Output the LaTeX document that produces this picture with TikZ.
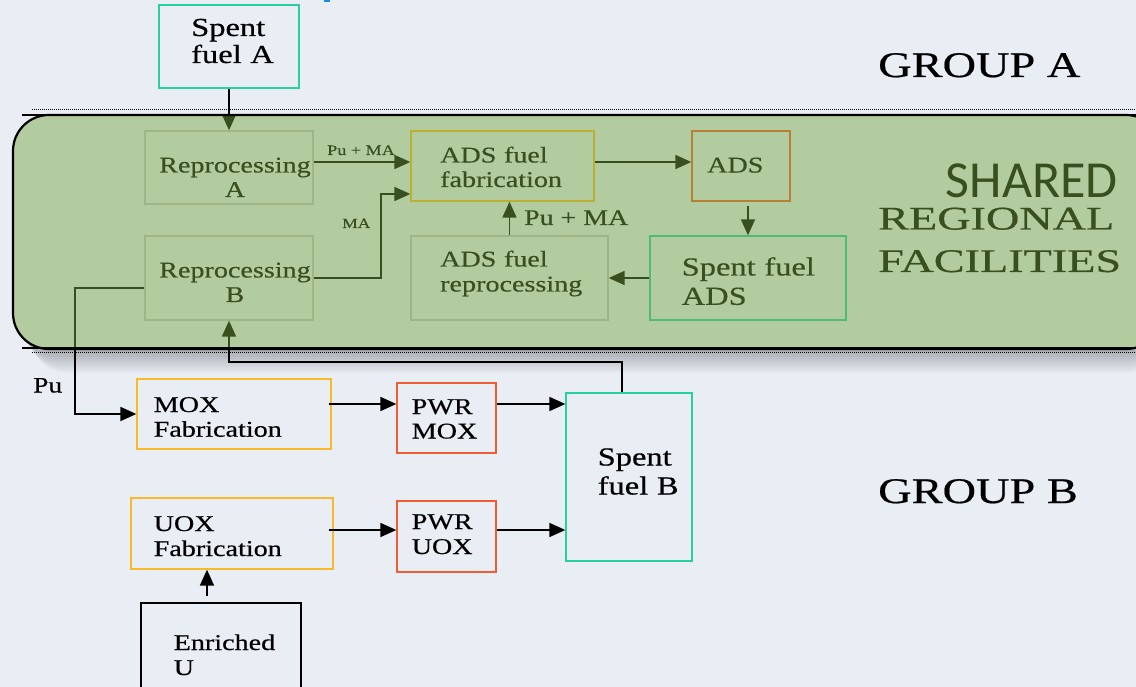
\documentclass[tikz,border=0pt]{standalone}
\usepackage{fontspec}
\usepackage{graphicx}
\setmainfont{Liberation Serif}[FakeStretch=1.25,FakeBold=0.5]
\newfontfamily\sharedfont{Carlito}
\usetikzlibrary{arrows.meta}
\definecolor{bgc}{RGB}{233,238,245}
\definecolor{cTeal}{RGB}{40,208,160}
\definecolor{cAmber}{RGB}{250,186,40}
\definecolor{cRed}{RGB}{242,92,52}
\definecolor{cFaint}{RGB}{195,195,195}
\definecolor{cOver}{RGB}{121,167,67}
\definecolor{cBlue}{RGB}{30,140,230}
\newcommand\setfs[2]{\fontsize{#1}{#2}\selectfont}
\begin{document}
\begin{tikzpicture}[x=1pt,y=-1pt,
  box/.style={draw, line width=1.3pt, inner sep=0pt},
  txt/.style={inner sep=0pt, anchor=base west, text width=200pt, align=left},
  ctxt/.style={inner sep=0pt, anchor=base, text width=200pt, align=center},
  arr/.style={line width=1.7pt, -{Triangle[length=16pt,width=14pt]}},
  lbl/.style={inner sep=0pt}
]
\useasboundingbox (0,0) rectangle (1136,687);
\clip (0,0) rectangle (1136,687);
\fill[bgc] (0,0) rectangle (1136,687);
\fill[cBlue] (324,0) rectangle (330,2.5);
% shadow of the shared region
\foreach \i in {1,...,9}
  \fill[black, opacity=0.03, rounded corners=36pt] ({13+2*\i},{115+\i*2.6}) rectangle (1162,{349+\i*2.6});
\fill[bgc, rounded corners=36pt] (13,115) rectangle (1162,349);

% ---- boxes
\node[box, draw=cTeal,  minimum width=140pt, minimum height=83pt]  (sfA)    at (229,46.5) {};
\node[box, draw=cFaint, minimum width=168pt, minimum height=73pt]  (repA)   at (229,167.5) {};
\node[box, draw=cFaint, minimum width=168pt, minimum height=84pt]  (repB)   at (229,278) {};
\node[box, draw=cAmber, minimum width=183pt, minimum height=70pt]  (fab)    at (502.5,166) {};
\node[box, draw=cRed,   minimum width=98pt,  minimum height=70pt]  (ads)    at (741,166) {};
\node[box, draw=cTeal,  minimum width=196pt, minimum height=84pt]  (sfADS)  at (748,278) {};
\node[box, draw=cFaint, minimum width=197pt, minimum height=84pt]  (adsrep) at (509.5,278) {};
\node[box, draw=cAmber, minimum width=194pt, minimum height=70pt]  (mox)    at (234,414) {};
\node[box, draw=cRed,   minimum width=99pt,  minimum height=70pt]  (pwrmox) at (446.5,418) {};
\node[box, draw=cAmber, minimum width=202pt, minimum height=71pt]  (uox)    at (232,533.5) {};
\node[box, draw=cRed,   minimum width=99pt,  minimum height=71pt]  (pwruox) at (446.5,536.5) {};
\node[box, draw=cTeal,  minimum width=126pt, minimum height=168pt] (sfB)    at (629,477) {};
\node[box, draw=black, line width=1.2pt, minimum width=160pt, minimum height=102pt] (enr) at (221,654) {};

% ---- box texts
\node[txt, font=\setfs{26}{27}]     (tsfA)    at (191,36)    {Spent\\fuel A};
\node[ctxt, font=\setfs{22.5}{24.5}] (trepA)  at (235,172.5) {Reprocessing\\A};
\node[ctxt, font=\setfs{22.5}{24.5}] (trepB)  at (235,277.5) {Reprocessing\\B};
\node[txt, font=\setfs{22.5}{24.5}] (tfab)    at (440,162.5) {ADS fuel\\fabrication};
\node[txt, font=\setfs{22.5}{24.5}] (tads)    at (707,172.5) {ADS};
\node[txt, font=\setfs{26}{29.3}]   (tsfADS)  at (681.5,275.5) {Spent fuel\\ADS};
\node[txt, font=\setfs{22.5}{25}]   (tadsrep) at (440,266.5) {ADS fuel\\reprocessing};
\node[txt, font=\setfs{22.5}{24.7}] (tmox)    at (153.5,412) {MOX\\Fabrication};
\node[txt, font=\setfs{22.5}{24.5}] (tpwrmox) at (411.5,414) {PWR\\MOX};
\node[txt, font=\setfs{22.5}{25}]   (tuox)    at (153.5,531) {UOX\\Fabrication};
\node[txt, font=\setfs{22.5}{25}]   (tpwruox) at (411.5,529) {PWR\\UOX};
\node[txt, font=\setfs{26}{29}]     (tsfB)    at (597.5,465.5) {Spent\\fuel B};
\node[txt, font=\setfs{22.5}{25}]   (tenr)    at (173.5,650) {Enriched\\U};

% ---- labels
\node[lbl, anchor=base west, font=\setfs{14.5}{16}] (lPuMA) at (327,155) {Pu + MA};
\node[lbl, anchor=base west, font=\setfs{14}{16}] (lMA) at (342,228) {MA};
\node[lbl, anchor=base west, font=\setfs{22.3}{25}] (lPuMA2) at (524,225) {Pu + MA};
\node[lbl, anchor=base west, font=\setfs{22}{25}] (lPu) at (33,392.5) {Pu};
\node[lbl, anchor=base east, font=\sharedfont\setfs{52}{56}] (tShared) at (1118,198) {SHARED};
\node[lbl, anchor=base west, font=\setfs{33}{36}] (tReg) at (878,229.5) {\scalebox{1.12}[1]{REGIONAL}};
\node[lbl, anchor=base west, font=\setfs{33}{36}] (tFac) at (878,272) {\scalebox{1.12}[1]{FACILITIES}};
\node[lbl, anchor=base west, font=\setfs{36}{40}] (gA) at (878,77) {\scalebox{1.03}[1]{GROUP A}};
\node[lbl, anchor=base west, font=\setfs{36}{40}] (gB) at (878,503) {\scalebox{1.03}[1]{GROUP B}};

% ---- helper coordinates
\coordinate (yA) at (0,162);
\coordinate (bMA) at (381,194);
\coordinate (pB) at (75,288);
\coordinate (yM) at (0,404);
\coordinate (yU) at (0,530);
\coordinate (xE) at (207,0);
\coordinate (cB) at (622,362);

% ---- connectors
\draw[arr] (sfA.south) -- (repA.north);
\draw[arr] (repA.east |- yA) -- (fab.west |- yA);
\draw[arr] (repB.east) -| (bMA) -- (fab.west |- bMA);
\draw[arr] (fab.east |- yA) -- (ads.west |- yA);
\draw[arr] ([yshift=-4pt]ads.south -| sfADS.north) -- (sfADS.north);
\draw[arr] (sfADS.west) -- (adsrep.east);
\draw[arr] (adsrep.north) -- (adsrep.north |- fab.south);
\draw[arr] (repB.west |- pB) -- (pB) |- (mox.west);
\draw[arr] ([xshift=-3pt]mox.east |- yM) -- (pwrmox.west |- yM);
\draw[arr] (pwrmox.east |- yM) -- (sfB.west |- yM);
\draw[arr] ([xshift=-5pt]uox.east |- yU) -- (pwruox.west |- yU);
\draw[arr] (pwruox.east |- yU) -- (sfB.west |- yU);
\draw[arr] ([yshift=6pt]enr.north -| xE) -- (uox.south -| xE);
\draw[arr] (sfB.north -| cB) -- (cB) -| (repB.south);

% ---- shared regional facilities overlay
\fill[cOver, opacity=0.48, rounded corners=36pt] (13,115) rectangle (1162,349);
\draw[line width=2.2pt, rounded corners=36pt] (13,115) rectangle (1162,349);
\draw[line width=2.6pt] (22,115) -- (1136,115);
\draw[line width=2.6pt] (22,348) -- (1136,348);
\draw[line width=1pt, dash pattern=on 1pt off 1pt] (32,110) -- (1136,110);
\draw[line width=1pt, dash pattern=on 1pt off 1pt] (32,352) -- (1136,352);
\end{tikzpicture}
\end{document}
